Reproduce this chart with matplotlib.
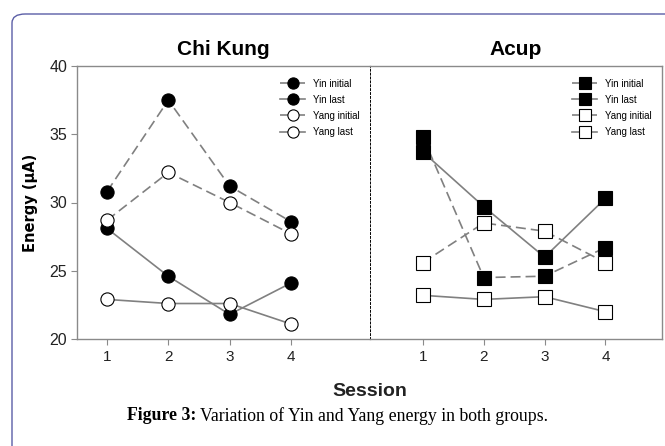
import matplotlib.pyplot as plt
from matplotlib.patches import FancyBboxPatch

# ============================================================
# DATA
# ============================================================
sessions = [1, 2, 3, 4]

chi_yin_initial = [30.8, 37.5, 31.2, 28.6]
chi_yin_last = [28.1, 24.6, 21.8, 24.1]
chi_yang_initial = [28.7, 32.2, 30.0, 27.7]
chi_yang_last = [22.9, 22.6, 22.6, 21.1]

acup_yin_initial = [34.8, 24.5, 24.6, 26.7]
acup_yin_last = [33.7, 29.7, 26.0, 30.3]
acup_yang_initial = [25.6, 28.5, 27.9, 25.6]
acup_yang_last = [23.2, 22.9, 23.1, 22.0]

series_labels = ["Yin initial", "Yin last", "Yang initial", "Yang last"]
y_ticks = [20, 25, 30, 35, 40]

# ============================================================
# FIGURE
# ============================================================
W, H = 665, 446
fig = plt.figure(figsize=(W / 100, H / 100), dpi=100)
narrow = ["Liberation Sans Narrow", "Liberation Sans", "DejaVu Sans"]
serif = ["Liberation Serif", "DejaVu Serif"]

# outer rounded frame of the page (bottom/right run off the picture)
fig.add_artist(FancyBboxPatch((12 / W, -0.2), 700 / W, (H - 14) / H + 0.2,
                              boxstyle="round,pad=0,rounding_size=0.02",
                              transform=fig.transFigure, fill=False,
                              edgecolor="#5b5ea6", linewidth=1.0))


def px(x0, y0, x1, y1):
    return [x0 / W, 1 - y1 / H, (x1 - x0) / W, (y1 - y0) / H]


ax1 = fig.add_axes(px(77, 66, 370, 339))
ax2 = fig.add_axes(px(370, 66, 662, 339))

line_c = "#808080"
frame_c = "#8a8a8a"


def draw(ax, data, marker):
    styles = [("--", "black"), ("-", "black"), ("--", "white"), ("-", "white")]
    for vals, (ls, fc), lab in zip(data, styles, series_labels):
        ax.plot(sessions, vals, linestyle=ls, color=line_c, linewidth=1.2,
                marker=marker, markersize=9.5, markerfacecolor=fc,
                markeredgecolor="black", markeredgewidth=0.8, label=lab,
                dashes=(6, 3) if ls == "--" else (None, None))


draw(ax1, [chi_yin_initial, chi_yin_last, chi_yang_initial, chi_yang_last], "o")
draw(ax2, [acup_yin_initial, acup_yin_last, acup_yang_initial, acup_yang_last], "s")

ax1.set_xlim(0.51, 5.29)
ax2.set_xlim(0.13, 4.93)

for ax in (ax1, ax2):
    ax.set_ylim(20, 40)
    ax.set_xticks(sessions)
    for s in ax.spines.values():
        s.set_color(frame_c)
        s.set_linewidth(1.0)
    ax.tick_params(axis="x", direction="out", length=4, color=frame_c, pad=4)
    for t in ax.get_xticklabels():
        t.set_family(narrow)
        t.set_fontsize(11)
        t.set_color("#222222")
    ax.legend(loc="upper right", bbox_to_anchor=(0.995, 0.985), frameon=False,
              prop={"family": narrow, "size": 7}, handlelength=2.6,
              labelspacing=0.62, handletextpad=0.8, markerscale=0.85)

ax1.spines["right"].set_visible(False)
ax2.spines["left"].set_color("black")
ax2.spines["left"].set_linewidth(0.7)
ax2.spines["left"].set_linestyle((0, (2, 2)))
ax2.tick_params(axis="y", left=False, labelleft=False)

ax1.set_yticks(y_ticks)
ax1.tick_params(axis="y", direction="out", length=4, color=frame_c, pad=3)
for t in ax1.get_yticklabels():
    t.set_family(narrow)
    t.set_fontsize(11.5)
    t.set_color("#222222")

ax1.set_title("Chi Kung", fontsize=15, fontweight="bold", family=narrow, pad=8)
ax2.set_title("Acup", fontsize=15, fontweight="bold", family=narrow, pad=8)
ax1.set_ylabel("Energy (\u03bcA)", fontsize=10.5, fontweight="bold", labelpad=8)

fig.text(370 / W, 1 - 391 / H, "Session", ha="center", va="center",
         fontsize=14, fontweight="bold", family=narrow, color="#222222")

# caption: bold lead-in followed by regular text
cap_y = 1 - 416 / H
lead = fig.text(127 / W, cap_y, "Figure 3:", ha="left", va="center",
                fontsize=12.8, fontweight="bold", family=serif)
r = fig.canvas.get_renderer()
bb = lead.get_window_extent(renderer=r)
fig.text((bb.x1 + 4) / W, cap_y, "Variation of Yin and Yang energy in both groups.",
         ha="left", va="center", fontsize=12.8, family=serif)

fig.savefig("out.png", dpi=100)
